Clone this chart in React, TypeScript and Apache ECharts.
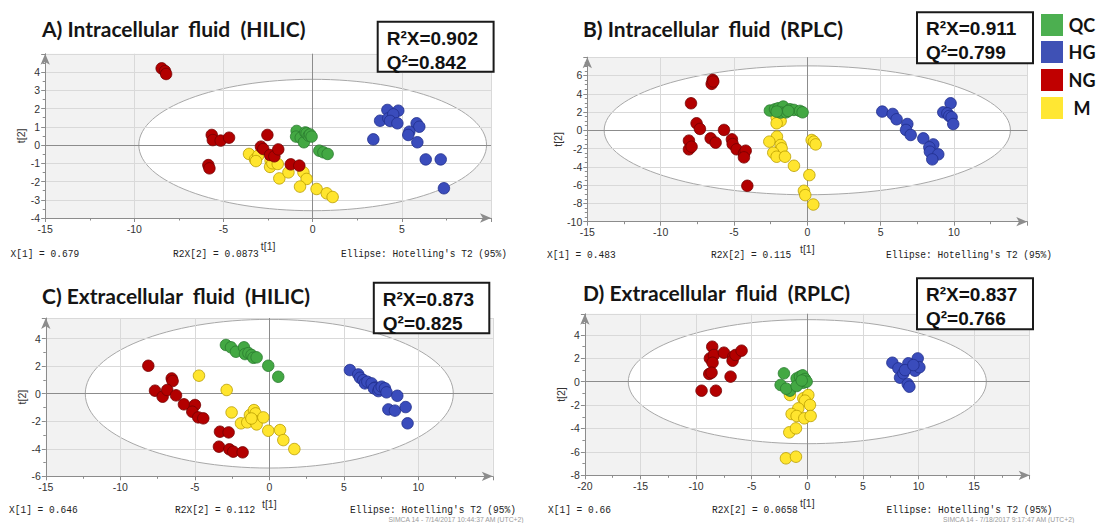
import React, { useEffect, useRef } from 'react';
import * as echarts from 'echarts';

// ---------- data (t[1], t[2]) ----------
const A_QC = [[-0.9,0.77],[-0.93,0.46],[-0.67,0.4],[-0.49,0.15],[-0.41,0.69],[-0.34,0.64],[-0.22,0.51],[-0.15,0.58],[-0.06,0.46],[0.37,-0.31],[0.6,-0.4],[0.84,-0.49]];
const A_HG = [[4.19,1.92],[4.8,1.88],[3.78,1.33],[4.24,1.46],[4.52,1.68],[4.34,1.32],[4.75,1.19],[5.83,1.19],[5.98,1.0],[5.42,0.73],[5.36,0.55],[3.4,0.31],[5.87,0.15],[6.34,-0.79],[7.18,-0.79],[7.36,-2.37]];
const A_NG = [[-8.47,4.2],[-8.28,4.05],[-8.22,3.89],[-5.66,0.55],[-5.6,0.27],[-5.16,0.24],[-4.69,0.4],[-5.85,-1.1],[-5.79,-1.28],[-2.54,0.55],[-2.9,-0.09],[-2.77,-0.22],[-2.39,-0.55],[-2.15,-0.62],[-1.93,-0.24],[-1.23,-1.06],[-0.75,-1.13]];
const A_M = [[-3.57,-0.49],[-3.23,-0.79],[-3.05,-0.58],[-3.18,-0.88],[-2.36,-0.86],[-2.39,-1.2],[-2.26,-1.0],[-1.96,-1.04],[-1.87,-1.83],[-1.36,-1.5],[-0.52,-1.5],[-0.34,-1.86],[-0.71,-2.28],[0.22,-2.41],[0.79,-2.65],[1.12,-2.85]];

const B_QC = [[-2.55,2.16],[-2.2,2.3],[-1.98,2.41],[-1.64,2.6],[-1.82,1.94],[-1.45,1.97],[-1.18,2.3],[-0.91,2.23],[-0.5,2.12],[-0.32,1.97],[-2.09,2.05],[-1.3,2.12]];
const B_HG = [[5.11,2.05],[5.82,1.79],[6.09,1.21],[6.82,0.69],[6.73,0.04],[7.05,-0.51],[7.91,-0.88],[8.59,-1.54],[8.32,-1.86],[8.36,-2.34],[8.93,-2.63],[8.52,-3.18],[9.77,2.96],[9.27,1.97],[9.55,1.86],[9.68,1.57],[9.84,1.43],[9.95,0.69]];
const B_NG = [[-6.45,5.52],[-6.52,5.08],[-6.41,5.34],[-7.93,2.96],[-7.55,0.77],[-7.32,0.15],[-8.07,-1.13],[-8.07,-2.08],[-7.89,-1.79],[-6.59,-0.88],[-6.25,-1.35],[-5.68,0.04],[-5.14,-0.99],[-5.09,-1.5],[-4.82,-2.08],[-4.32,-2.52],[-4.2,-2.23],[-4.32,-2.96],[-4.09,-6.07]];
const B_M = [[-2.09,1.43],[-1.82,1.02],[-2.09,0.77],[-2.07,-0.69],[-2.59,-1.24],[-1.82,-1.61],[-1.75,-1.97],[-2.32,-2.45],[-2.09,-2.89],[-1.52,-2.89],[-0.91,-3.88],[0.3,-1.06],[0.45,-1.24],[0.57,-1.54],[0.14,-4.9],[-0.23,-6.62],[-0.14,-7.09],[0.41,-8.12]];

const C_QC = [[-2.91,3.54],[-2.57,3.37],[-2.24,3.05],[-1.7,3.37],[-1.63,2.88],[-1.4,2.95],[-1.19,2.81],[-1.07,2.61],[-0.85,2.64],[-0.07,2.03],[0.6,1.23]];
const C_HG = [[5.41,1.72],[5.97,1.4],[6.09,1.16],[6.31,0.99],[6.42,0.75],[6.58,0.87],[6.87,0.75],[7.09,0.44],[7.02,0.39],[7.32,0.19],[7.38,0.34],[7.54,0.51],[7.76,0.39],[7.87,0.1],[8.59,-0.15],[7.99,-1.14],[8.43,-1.23],[9.15,-0.97],[9.28,-2.15]];
const C_NG = [[-8.12,2.03],[-6.55,1.11],[-6.49,0.92],[-7.67,0.22],[-7.16,-0.22],[-6.85,0.27],[-6.26,-0.12],[-5.73,-0.77],[-4.99,-0.82],[-5.17,-1.31],[-4.77,-1.72],[-4.43,-1.79],[-3.31,-2.76],[-2.73,-2.81],[-3.38,-3.85],[-2.68,-4.04],[-2.42,-4.21],[-1.79,-4.26]];
const C_M = [[-4.72,1.31],[-2.86,0.27],[-2.53,-1.36],[-1.9,-2.15],[-1.48,-2.08],[-1.3,-1.55],[-1.03,-1.19],[-0.92,-1.43],[-0.96,-1.99],[-0.85,-2.23],[-0.4,-1.72],[-1.2,-1.8],[-0.07,-2.69],[0.72,-2.64],[0.94,-3.37],[1.68,-4.02]];

const D_QC = [[-2.1,0.71],[-2.4,-0.28],[-1.56,-0.77],[-1.9,-0.6],[-0.96,0.28],[-0.66,0.43],[-0.42,0.54],[-0.21,0.23],[-0.36,-0.09],[-0.96,-0.37],[-0.06,0],[-0.5,0.1]];
const D_HG = [[7.65,1.62],[8.19,1.14],[8.34,0.34],[8.64,0.71],[9.09,1.57],[9.69,0.94],[9.93,1.99],[10.08,1.23],[9.03,-0.2],[9.18,-0.43],[8.79,0.99],[9.54,1.42]];
const D_NG = [[-8.55,2.99],[-8.76,1.99],[-8.4,2.28],[-8.52,1.62],[-7.5,2.48],[-6.66,2.14],[-6.72,1.79],[-6.45,2.28],[-5.91,2.65],[-8.82,0.66],[-8.61,0.77],[-6.9,0.43],[-9.51,-0.77],[-8.22,-0.77]];
const D_M = [[-1.56,-1.14],[-0.36,-1.42],[0.09,-1.14],[-0.21,-1.62],[0.24,-1.99],[-0.81,-2.28],[-1.41,-2.76],[-0.96,-2.93],[-0.27,-3.13],[0.3,-2.93],[-1.62,-4.33],[-1.02,-3.99],[-1.92,-6.55],[-1.02,-6.41]];

const GROUPS = ['QC', 'HG', 'NG', 'M'];
const PANEL_DATA = [
  { QC: A_QC, HG: A_HG, NG: A_NG, M: A_M },
  { QC: B_QC, HG: B_HG, NG: B_NG, M: B_M },
  { QC: C_QC, HG: C_HG, NG: C_NG, M: C_M },
  { QC: D_QC, HG: D_HG, NG: D_NG, M: D_M },
];

const TITLES = ['A) Intracellular  fluid  (HILIC)', 'B) Intracellular  fluid  (RPLC)', 'C) Extracellular  fluid  (HILIC)', 'D) Extracellular  fluid  (RPLC)'];
const R2X = ['0.902', '0.911', '0.873', '0.837'];
const Q2 = ['0.842', '0.799', '0.825', '0.766'];
const X1 = ['0.679', '0.483', '0.646', '0.66'];
const R2X2 = ['0.0873', '0.115', '0.112', '0.0658'];
const SIMCA = ['', '', 'SIMCA 14 - 7/14/2017 10:44:37 AM (UTC+2)', 'SIMCA 14 - 7/18/2017 9:17:47 AM (UTC+2)'];

const X_MIN = [-15, -15, -15, -20];
const X_MAX = [10, 15, 15, 20];
const Y_MIN = [-4, -10, -6, -8];
const Y_MAX = [5, 8, 5.5, 5.8];
const Y_STEP = [1, 2, 2, 2];
// Hotelling's T2 (95%) ellipse semi-axes (t[1], t[2])
const ELLIPSE_A = [9.75, 13.85, 12.35, 16.1];
const ELLIPSE_B = [3.6, 7.05, 5.4, 5.3];

// ---------- styles / layout ----------
const MARK = {
  QC: { color: '#43a843', borderColor: '#2a7a2e' },
  HG: { color: '#3a4cbc', borderColor: '#1f2d8a' },
  NG: { color: '#b30000', borderColor: '#720000' },
  M: { color: '#ffe52e', borderColor: '#b89c00' },
};
const LEGEND_COLORS = { QC: '#4caf50', HG: '#3f51b5', NG: '#c00000', M: '#ffe733' };

const GRIDS = [
  { left: 45.2, top: 53.75, width: 445.8, height: 164.25 },
  { left: 587.3, top: 57.2, width: 440, height: 164.5 },
  { left: 45.8, top: 318, width: 447, height: 158.3 },
  { left: 584.9, top: 313.8, width: 444.8, height: 161.5 },
];
const TITLE_POS = [[42, 28], [583, 28], [42, 295], [583, 292]];
const BOX_POS = [[377.7, 21.7, 115.9, 50], [917, 12.3, 116, 51], [373.8, 282.7, 115.5, 50.6], [917, 278.3, 116, 51]];
const FOOT_Y = [254, 255, 510.5, 510.5];
const FOOT_X = [[10.5, 173, 341], [547, 711, 886], [9, 175, 350], [548, 712, 886.5]];
const SIMCA_X = [0, 0, 388.5, 943];

const AXIS_GRAY = '#8c8c8c';
const TICK_FONT = 'Liberation Sans';

function txt(x: number, y: number, text: string, font: string, fill = '#111', align = 'left', scaleX = 1) {
  return {
    type: 'text', x, y, z: 20, silent: true, scaleX,
    style: { text, font, fill, align, verticalAlign: 'middle', textAlign: align, textVerticalAlign: 'middle' },
  };
}

function buildOption() {
  const grid = GRIDS.map((g) => ({ ...g, show: true, backgroundColor: '#f2f2f2', borderWidth: 0 }));
  const xAxis = GRIDS.map((_, i) => ({
    gridIndex: i, type: 'value', min: X_MIN[i], max: X_MAX[i], interval: 5,
    name: 't[1]', nameLocation: 'middle', nameGap: 22,
    nameTextStyle: { fontSize: 10.5, color: '#333', fontFamily: TICK_FONT },
    axisLine: { show: true, onZero: false, symbol: ['none', 'arrow'], symbolSize: [7, 11], lineStyle: { color: AXIS_GRAY, width: 1 } },
    axisTick: { show: true, length: 4, lineStyle: { color: AXIS_GRAY } },
    minorTick: { show: true, splitNumber: 2, length: 2.5, lineStyle: { color: AXIS_GRAY } },
    axisLabel: { showMaxLabel: false, fontSize: 10.5, color: '#333', margin: 5, fontFamily: TICK_FONT },
    splitLine: { show: true, lineStyle: { color: '#d9d9d9', width: 1 } },
  }));
  const yAxis = GRIDS.map((_, i) => ({
    gridIndex: i, type: 'value', min: Y_MIN[i], max: Y_MAX[i], interval: Y_STEP[i],
    name: 't[2]', nameLocation: 'middle', nameGap: 17, nameRotate: 90,
    nameTextStyle: { fontSize: 10.5, color: '#333', fontFamily: TICK_FONT },
    axisLine: { show: true, onZero: false, symbol: ['none', 'arrow'], symbolSize: [7, 11], lineStyle: { color: AXIS_GRAY, width: 1 } },
    axisTick: { show: true, length: 4, lineStyle: { color: AXIS_GRAY } },
    minorTick: { show: true, splitNumber: i === 1 ? 4 : 2, length: 2.5, lineStyle: { color: AXIS_GRAY } },
    axisLabel: { showMaxLabel: false, fontSize: 10.5, color: '#333', margin: 5, fontFamily: TICK_FONT },
    splitLine: { show: true, lineStyle: { color: '#d9d9d9', width: 1 } },
  }));

  const series: any[] = [];
  GRIDS.forEach((_, i) => {
    series.push({
      type: 'custom', xAxisIndex: i, yAxisIndex: i, z: 0, silent: true,
      data: [[0, 0, ELLIPSE_A[i], ELLIPSE_B[i]]],
      renderItem: (params: any, api: any) => {
        const c = api.coord([api.value(0), api.value(1)]);
        const s = api.size([api.value(2), api.value(3)]);
        return {
          type: 'ellipse', z2: -0.5,
          shape: { cx: c[0], cy: c[1], rx: s[0], ry: s[1] },
          style: { fill: '#ffffff', stroke: '#a8a8a8', lineWidth: 1 },
        };
      },
    });
    ['M', 'NG', 'HG', 'QC'].forEach((g, k) => {
      const s: any = {
        type: 'scatter', name: g, xAxisIndex: i, yAxisIndex: i, z: 2, silent: true,
        symbol: 'circle', symbolSize: 11.5,
        itemStyle: { color: (MARK as any)[g].color, borderColor: (MARK as any)[g].borderColor, borderWidth: 0.8, opacity: 1 },
        data: (PANEL_DATA[i] as any)[g],
      };
      if (k === 0) {
        s.markLine = {
          silent: true, z: 1, symbol: ['none', 'none'], label: { show: false },
          lineStyle: { color: AXIS_GRAY, width: 1, type: 'solid' },
          emphasis: { disabled: true },
          data: [{ xAxis: 0 }, { yAxis: 0 }],
        };
      }
      series.push(s);
    });
  });

  const graphic: any[] = [];
  GRIDS.forEach((_, i) => {
    graphic.push(txt(TITLE_POS[i][0], TITLE_POS[i][1], TITLES[i], 'bold 21px Lato', '#151515'));
    const [bx, by, bw, bh] = BOX_POS[i];
    graphic.push({ type: 'rect', z: 19, silent: true, shape: { x: bx, y: by, width: bw, height: bh }, style: { fill: '#ffffff', stroke: '#1a1a1a', lineWidth: 2 } });
    graphic.push(txt(bx + 9, by + 16.5, 'R\u00B2X=' + R2X[i], 'bold 19px "Liberation Sans"', '#111'));
    graphic.push(txt(bx + 9, by + 40.5, 'Q\u00B2=' + Q2[i], 'bold 19px "Liberation Sans"', '#111'));
    const mono = '10.6px "Liberation Mono"';
    graphic.push(txt(FOOT_X[i][0], FOOT_Y[i], 'X[1] = ' + X1[i], mono, '#222', 'left', 0.9));
    graphic.push(txt(FOOT_X[i][1], FOOT_Y[i], 'R2X[2] = ' + R2X2[i], mono, '#222', 'left', 0.9));
    graphic.push(txt(FOOT_X[i][2], FOOT_Y[i], "Ellipse: Hotelling's T2 (95%)", mono, '#222', 'left', 0.9));
    if (SIMCA[i]) graphic.push(txt(SIMCA_X[i], 519.8, SIMCA[i], '6.8px "Liberation Sans"', '#9a9a9a'));
  });
  const LEG_Y = [14, 41, 69, 97];
  GROUPS.forEach((g, k) => {
    graphic.push({ type: 'rect', z: 19, silent: true, shape: { x: 1041, y: LEG_Y[k], width: 22, height: 22 }, style: { fill: (LEGEND_COLORS as any)[g] } });
    graphic.push(txt(1082, LEG_Y[k] + 11, g, 'bold 18px Lato', '#111', 'center'));
  });

  return { animation: false, backgroundColor: '#ffffff', grid, xAxis, yAxis, series, graphic };
}

export default function App() {
  const ref = useRef<HTMLDivElement>(null);
  useEffect(() => {
    const chart = echarts.init(ref.current as HTMLDivElement, null, { renderer: 'svg' });
    chart.setOption(buildOption() as any);
    return () => chart.dispose();
  }, []);
  return <div ref={ref} style={{ position: 'fixed', left: 0, top: 0, width: 1097, height: 523, background: '#fff' }} />;
}
